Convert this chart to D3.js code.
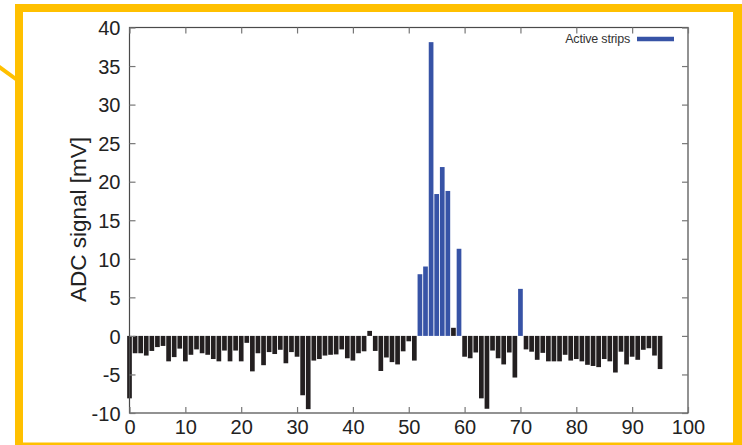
<!DOCTYPE html>
<html>
<head>
<meta charset="utf-8">
<script src="https://cdn.jsdelivr.net/npm/d3@7/dist/d3.min.js"></script>
<style>
  html, body { margin: 0; padding: 0; background: #fff; }
  svg { display: block; font-family: "Liberation Sans", Arial, Helvetica, sans-serif; }
</style>
</head>
<body>
<svg id="chart" width="742" height="445"></svg>
<script>
// ADC signal per strip (mV), strips 0..95
const strips = d3.range(0, 96);
const adcSignal = [
  -8.1, -2.25, -2.25, -2.55, -1.95, -1.45, -1.3, -3.3, -2.75, -1.65,
  -3.3, -2.45, -1.75, -2.25, -2.45, -3.0, -3.3, -1.9, -3.3, -1.9,
  -3.3, -0.9, -4.6, -2.25, -3.8, -2.1, -2.35, -1.8, -3.55, -2.1,
  -2.7, -7.7, -9.5, -3.2, -3.0, -2.55, -2.45, -2.4, -1.75, -2.9,
  -3.2, -2.25, -2.0, 0.65, -1.95, -4.55, -2.8, -3.4, -3.7, -2.0,
  -0.7, -3.2, 8.0, 9.0, 38.1, 18.4, 21.9, 18.8, 1.05, 11.3,
  -2.7, -2.9, -2.15, -8.1, -9.45, -1.9, -2.9, -3.7, -2.15, -5.4,
  6.1, -1.75, -2.05, -3.1, -2.2, -3.3, -3.3, -3.3, -2.45, -3.2,
  -3.0, -3.3, -3.75, -3.9, -4.05, -3.0, -3.3, -4.75, -2.05, -3.7,
  -2.7, -3.1, -1.8, -1.6, -2.55, -4.3
];
// strips flagged as active
const activeStrips = [52, 53, 54, 55, 56, 57, 59, 70];

const xTicks = [0, 10, 20, 30, 40, 50, 60, 70, 80, 90, 100];
const yTicks = [-10, -5, 0, 5, 10, 15, 20, 25, 30, 35, 40];
const yLabel = "ADC signal [mV]";
const legendLabel = "Active strips";

const svg = d3.select("#chart");
const W = 742, H = 445;
const margin = { left: 129.5, right: W - 688, top: 27.5, bottom: H - 413 };

const x = d3.scaleLinear().domain([0, 100]).range([margin.left, W - margin.right]);
const y = d3.scaleLinear().domain([-10, 40]).range([H - margin.bottom, margin.top]);

const yellow = "#FFC000";
const axisColor = "#4a4a4a";
const textColor = "#222";
const barDark = "#231f20";
const barBlue = "#3753a6";
const plainNum = d => String(d); // ASCII hyphen for negatives

// bars
const halfW = 0.42;
svg.append("g")
  .selectAll("rect")
  .data(strips)
  .join("rect")
  .attr("x", i => x(i - halfW))
  .attr("width", i => x(i + halfW) - x(i - halfW))
  .attr("y", i => y(Math.max(0, adcSignal[i])))
  .attr("height", i => Math.abs(y(adcSignal[i]) - y(0)))
  .attr("fill", i => activeStrips.includes(i) ? barBlue : barDark);

// frame around plot
svg.append("rect")
  .attr("x", x(0)).attr("y", y(40))
  .attr("width", x(100) - x(0)).attr("height", y(-10) - y(40))
  .attr("fill", "none").attr("stroke", axisColor).attr("stroke-width", 1.2);

// axes with inward ticks
const tickLen = 6;
const gBottom = svg.append("g").attr("transform", `translate(0,${y(-10)})`)
  .call(d3.axisBottom(x).tickValues(xTicks).tickFormat(plainNum).tickSizeInner(-tickLen).tickSizeOuter(0).tickPadding(5));
const gTop = svg.append("g").attr("transform", `translate(0,${y(40)})`)
  .call(d3.axisTop(x).tickValues(xTicks).tickSizeInner(-tickLen).tickSizeOuter(0).tickFormat(""));
const gLeft = svg.append("g").attr("transform", `translate(${x(0)},0)`)
  .call(d3.axisLeft(y).tickValues(yTicks).tickFormat(plainNum).tickSizeInner(-tickLen).tickSizeOuter(0).tickPadding(9));
const gRight = svg.append("g").attr("transform", `translate(${x(100)},0)`)
  .call(d3.axisRight(y).tickValues(yTicks).tickSizeInner(-tickLen).tickSizeOuter(0).tickFormat(""));

[gBottom, gTop, gLeft, gRight].forEach(g => {
  g.select(".domain").remove();
  g.selectAll(".tick line").attr("stroke", "#777").attr("stroke-width", 1.2);
  g.selectAll(".tick text").attr("fill", textColor).attr("font-size", 20)
    .attr("font-family", "'Liberation Sans', Arial, sans-serif");
});
gBottom.selectAll(".tick text").attr("dy", "0.78em");
gLeft.selectAll(".tick text").attr("dy", "0.36em");

// y axis title
svg.append("text")
  .attr("transform", `translate(86,302) rotate(-90)`)
  .attr("text-anchor", "start")
  .attr("fill", textColor)
  .attr("font-size", 22.5)
  .text(yLabel);

// legend
svg.append("text")
  .attr("x", 630).attr("y", 43)
  .attr("text-anchor", "end")
  .attr("fill", "#333")
  .attr("font-size", 12.5)
  .attr("letter-spacing", -0.2)
  .text(legendLabel);
svg.append("line")
  .attr("x1", 637).attr("x2", 674).attr("y1", 39).attr("y2", 39)
  .attr("stroke", barBlue).attr("stroke-width", 4.5);

// highlight frame
const frame = svg.append("g").attr("fill", yellow);
frame.append("rect").attr("x", 15).attr("y", 4).attr("width", W - 15).attr("height", 8);
frame.append("rect").attr("x", 15).attr("y", 4).attr("width", 8).attr("height", H - 4);
frame.append("rect").attr("x", 733).attr("y", 4).attr("width", 9).attr("height", H - 4);
frame.append("rect").attr("x", 15).attr("y", 442.5).attr("width", W - 15).attr("height", 3);
svg.append("line")
  .attr("x1", -2).attr("y1", 66).attr("x2", 20).attr("y2", 82)
  .attr("stroke", yellow).attr("stroke-width", 4);
</script>
</body>
</html>
